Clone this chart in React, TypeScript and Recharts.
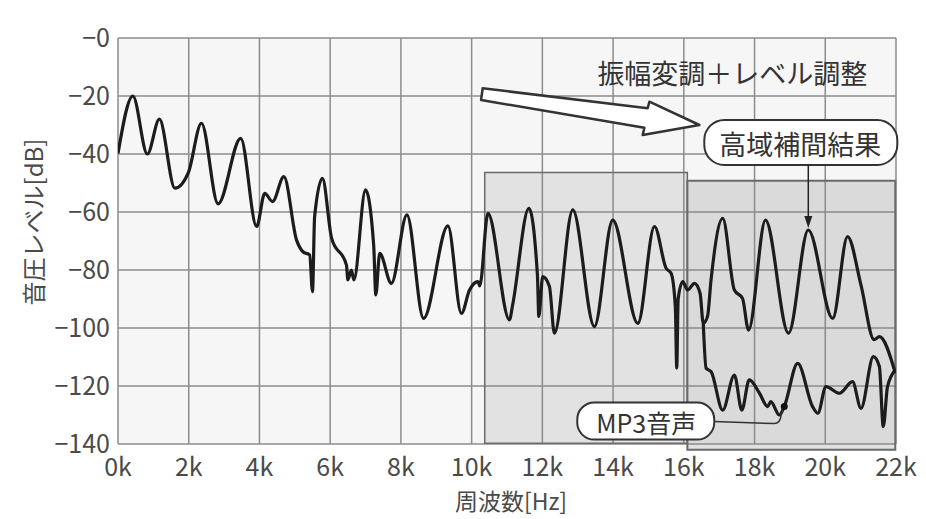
import {
  CartesianGrid,
  Label,
  Line,
  LineChart,
  ReferenceArea,
  ReferenceDot,
  XAxis,
  YAxis,
} from "recharts";

// 周波数 [kHz] / 音圧レベル [dB]
const MAIN_FREQ = [
  0, 0.42, 0.83, 1.17, 1.61, 1.99, 2.36, 2.83, 3.47, 3.92, 4.15, 4.37, 4.69, 5.05, 5.23, 5.42, 5.5, 5.56,
  5.78, 6.04, 6.46, 6.5, 6.6, 6.67, 7.0, 7.23, 7.29, 7.4, 7.73, 8.17, 8.64, 9.33, 9.71, 9.94, 10.18, 10.23,
  10.46, 11.07, 11.16, 11.62, 11.86, 11.9, 12.01, 12.2, 12.34, 12.86, 13.47, 13.99, 14.7, 15.17, 15.5,
  15.64, 15.76, 15.8, 15.84, 15.97, 16.11, 16.3, 16.46, 16.55, 16.67, 16.77, 17.1, 17.43, 17.66, 17.83,
  18.31, 18.96, 19.52, 20.21, 20.63, 21.01, 21.38, 21.53, 21.98,
];
const MAIN_LEVEL = [
  -39.8, -20, -40, -28, -51.8, -46.4, -29.4, -57.2, -34.6, -65, -53.6, -56.4, -47.8, -69.7, -73.7, -74.8,
  -87.5, -61.6, -48.4, -69, -78.3, -83.4, -80, -83.4, -52.4, -71.4, -88.6, -74.3, -84.6, -61, -96.7, -64.8,
  -95, -86.9, -84, -85.5, -60.5, -97.2, -92, -58.7, -81.7, -96, -82.3, -85.7, -101.8, -59.3, -99.5, -62.8,
  -98.4, -65, -79.4, -81.1, -92.6, -113.8, -90, -84, -86.9, -84.6, -88, -98.4, -96, -83.4, -62.2, -86.9,
  -89.8, -100.7, -62.8, -101.8, -66.2, -96.7, -68.5, -85.2, -104, -103, -115.5,
];

const MP3_FREQ = [
  16.55, 16.63, 16.77, 17.1, 17.43, 17.64, 17.85, 18.14, 18.37, 18.46, 18.7, 18.84, 19.22, 19.64, 19.79,
  20.02, 20.4, 20.77, 21.01, 21.36, 21.53, 21.64, 21.76, 21.98,
];
const MP3_LEVEL = [
  -98.4, -113.9, -115, -128.3, -116.2, -128.3, -117.9, -122.5, -127.1, -125.4, -130, -127.1, -112.2,
  -127.1, -129.4, -120.2, -122.5, -118.5, -127.7, -109.9, -113.3, -134, -120.2, -114.5,
];

const X_TICKS = [0, 2, 4, 6, 8, 10, 12, 14, 16, 18, 20, 22];
const Y_TICKS = [0, -20, -40, -60, -80, -100, -120, -140];

// 網掛け範囲 (原音域 / 補間域)
const BAND_LOW = { x1: 10.37, x2: 16.1, y1: -139.7, y2: -46.4 };
const BAND_HIGH = { x1: 16.1, x2: 21.98, y1: -142, y2: -49.2 };

// 注記の指し示す点
const HIGH_MARK = { x: 19.52, y: -66.2 };
const MP3_MARK = { x: 18.84, y: -127.1 };
const ARROW_TIP = { x: 16.44, y: -30 };

const mainData = MAIN_FREQ.map((f, i) => ({ f, v: MAIN_LEVEL[i] }));
const mp3Data = MP3_FREQ.map((f, i) => ({ f, v: MP3_LEVEL[i] }));

const FONT = "'Noto Sans CJK JP', 'Noto Sans', sans-serif";
const TEXT = "#4a4a4a";
const TICK = { fill: TEXT, fontSize: 25, fontFamily: FONT };

function HighCallout({ cx, cy }: any) {
  return (
    <g>
      <rect x={cx - 104} y={cy - 110} width={193} height={45} rx={20} fill="#fff" stroke="#333" strokeWidth={2} />
      <text x={cx - 8} y={cy - 86} textAnchor="middle" dominantBaseline="central" fontSize={27} fontFamily={FONT} fill="#333">
        高域補間結果
      </text>
      <line x1={cx} y1={cy - 65} x2={cx} y2={cy - 10} stroke="#222" strokeWidth={1.5} />
      <polygon points={`${cx - 4},${cy - 14} ${cx + 4},${cy - 14} ${cx},${cy - 2}`} fill="#222" />
    </g>
  );
}

function Mp3Callout({ cx, cy }: any) {
  return (
    <g>
      <path
        d={`M${cx - 70},${cy + 15} L${cx - 10},${cy + 17} Q${cx - 4},${cy + 17} ${cx - 3},${cy + 8} L${cx},${cy}`}
        fill="none"
        stroke="#333"
        strokeWidth={1.5}
      />
      <rect x={cx - 207} y={cy - 4} width={137} height={37} rx={17} fill="#fff" stroke="#333" strokeWidth={2} />
      <text x={cx - 138} y={cy + 15} textAnchor="middle" dominantBaseline="central" fontSize={25} fontFamily={FONT} fill="#333">
        MP3音声
      </text>
      <circle cx={cx} cy={cy} r={3.5} fill="#111" />
    </g>
  );
}

function BigArrow({ cx, cy }: any) {
  const p = [
    [-216.7, -36.7],
    [-51.7, -16.7],
    [-50, -23.3],
    [0, 0],
    [-56.7, 10],
    [-55, 2.7],
    [-218.3, -25],
  ]
    .map(([dx, dy]) => `${cx + dx},${cy + dy}`)
    .join(" ");
  return (
    <g>
      <polygon points={p} fill="#fff" stroke="#333" strokeWidth={2.5} strokeLinejoin="round" />
      <text x={cx - 102} y={cy - 53} dominantBaseline="central" fontSize={27} fontFamily={FONT} fill="#333">
        振幅変調＋レベル調整
      </text>
    </g>
  );
}

export default function App() {
  return (
    <div style={{ position: "absolute", left: 0, top: 0, width: 926, height: 519, background: "#fff" }}>
      <LineChart width={926} height={519} margin={{ top: 38, right: 30, bottom: 0, left: 0 }}>
        <CartesianGrid stroke="#8c8c8c" strokeWidth={1.5} fill="#f6f6f6" />
        <XAxis
          type="number"
          dataKey="f"
          domain={[0, 22]}
          ticks={X_TICKS}
          tickFormatter={(v) => `${v}k`}
          tick={TICK}
          tickLine={false}
          axisLine={false}
          tickSize={0}
          tickMargin={14}
          height={75}
          allowDataOverflow
        >
          <Label
            content={({ viewBox }: any) => (
              <text x={viewBox.x + viewBox.width / 2 + 4} y={viewBox.y + 56} textAnchor="middle" dominantBaseline="central" fontSize={23} fontFamily={FONT} fill={TEXT}>
                周波数[Hz]
              </text>
            )}
          />
        </XAxis>
        <YAxis
          type="number"
          domain={[-140, 0]}
          ticks={Y_TICKS}
          tickFormatter={(v) => `−${Math.abs(v)}`}
          tick={TICK}
          tickLine={false}
          axisLine={false}
          tickSize={0}
          tickMargin={8}
          width={118}
          allowDataOverflow
        >
          <Label
            content={({ viewBox }: any) => {
              const x = viewBox.x + 32;
              const y = viewBox.y + 184;
              return (
                <text x={x} y={y} transform={`rotate(-90 ${x} ${y})`} textAnchor="middle" dominantBaseline="central" fontSize={24} fontFamily={FONT} fill={TEXT}>
                  音圧レベル[dB]
                </text>
              );
            }}
          />
        </YAxis>
        <ReferenceArea {...BAND_LOW} fill="#8a8a8a" fillOpacity={0.18} stroke="#6a6a6a" strokeWidth={1.5} ifOverflow="visible" />
        <ReferenceArea {...BAND_HIGH} fill="#8a8a8a" fillOpacity={0.26} stroke="#6a6a6a" strokeWidth={2} ifOverflow="visible" />
        <Line data={mainData} dataKey="v" type="monotone" stroke="#1c1c1c" strokeWidth={3.2} dot={false} isAnimationActive={false} />
        <Line data={mp3Data} dataKey="v" type="monotone" stroke="#1c1c1c" strokeWidth={3.2} dot={false} isAnimationActive={false} />
        <ReferenceDot {...ARROW_TIP} ifOverflow="visible" shape={BigArrow} />
        <ReferenceDot {...HIGH_MARK} ifOverflow="visible" shape={HighCallout} />
        <ReferenceDot {...MP3_MARK} ifOverflow="visible" shape={Mp3Callout} />
      </LineChart>
    </div>
  );
}
